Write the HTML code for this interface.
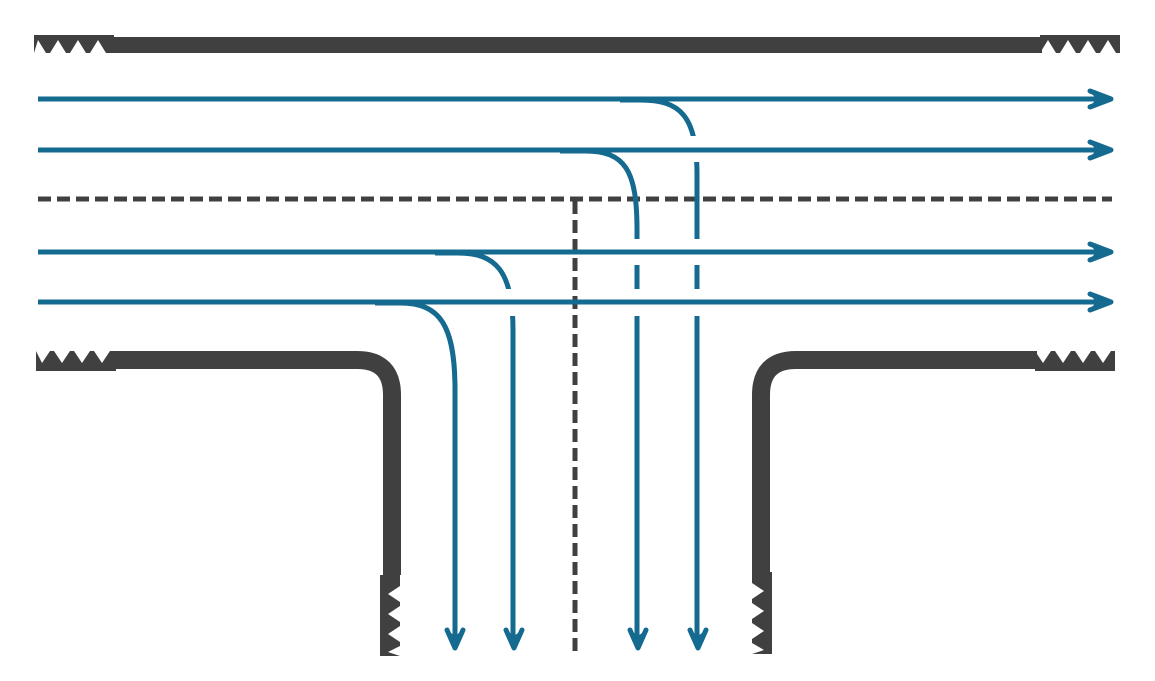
<!DOCTYPE html>
<html><head><style>html,body{margin:0;padding:0;background:#fff}svg{display:block}</style></head>
<body>
<svg width="1155" height="681" viewBox="0 0 1155 681" xmlns="http://www.w3.org/2000/svg">
<g fill="#404040">
<rect x="112" y="37" width="930" height="16"/>
<polygon points="34,35 114,35 114,53 106,53 98,40 90,53 86,53 78,40 70,53 66,53 58,40 50,53 46,53 38,40 34,53"/>
<polygon points="1040,35 1120,35 1120,53 1116,53 1108,40 1100,53 1096,53 1088,40 1080,53 1076,53 1068,40 1060,53 1056,53 1048,40 1040,53"/>
<polygon points="36,371 116,371 116,351 110,351 102,363 94,351 90,351 82,363 74,351 70,351 62,363 54,351 50,351 42,363 36,351"/>
<polygon points="1035,371 1115,371 1115,351 1111,351 1103,363 1095,351 1091,351 1083,363 1075,351 1071,351 1063,363 1055,351 1051,351 1043,363 1035,351"/>
<polygon points="380,575 400,575 400,586 388,594 400,602 400,606 388,614 400,622 400,626 388,634 400,642 400,646 388,652 400,656 380,656"/>
<polygon points="772,572 752,572 752,583 764,591 752,599 752,603 764,611 752,619 752,623 764,631 752,639 752,643 764,650 752,654 772,654"/>
</g>
<g fill="none" stroke="#404040" stroke-width="18">
<path d="M114 360 H357 Q392 360 392 395 V575"/>
<path d="M1037 360 H796 Q761 360 761 395 V574"/>
</g>
<g stroke="#404040" stroke-width="5" stroke-dasharray="13,6" fill="none">
<path d="M38 199 H1112"/>
<path d="M575 201 V657"/>
</g>
<g fill="none" stroke="#156a8f" stroke-width="5">
<path d="M620 100 H640 C680 100 697 115 697 175 V640"/>
<path d="M560 151 H585 C625 151 637 170 637 230 V640"/>
<path d="M435 253 H458 C495 253 513 270 513 330 V640"/>
<path d="M375 303 H400 C440 303 455 325 455 390 V640"/>
</g>
<g fill="#fff">
<rect x="680" y="136" width="35" height="26"/>
<rect x="680" y="239" width="35" height="26"/>
<rect x="680" y="289" width="35" height="27"/>
<rect x="620" y="239" width="35" height="26"/>
<rect x="620" y="289" width="35" height="27"/>
<rect x="496" y="289" width="35" height="27"/>
</g>
<g fill="none" stroke="#156a8f" stroke-width="5">
<path d="M38 99 H1100"/>
<path d="M38 150 H1100"/>
<path d="M38 252 H1100"/>
<path d="M38 302 H1100"/>
</g>
<g fill="none" stroke="#156a8f" stroke-width="5" stroke-linecap="round" stroke-linejoin="round">
<polyline points="1090,91 1111,99 1090,107"/>
<polyline points="1090,142 1111,150 1090,158"/>
<polyline points="1090,244 1111,252 1090,260"/>
<polyline points="1090,294 1111,302 1090,310"/>
<polyline points="447,630 455,648 463,630"/>
<polyline points="506,630 514,648 522,630"/>
<polyline points="630,630 638,648 646,630"/>
<polyline points="690,630 698,648 706,630"/>
</g>
<g fill="#156a8f">
<polygon points="1112,99 1090,91 1096,99 1090,107"/>
<polygon points="1112,150 1090,142 1096,150 1090,158"/>
<polygon points="1112,252 1090,244 1096,252 1090,260"/>
<polygon points="1112,302 1090,294 1096,302 1090,310"/>
<polygon points="455,650 447,630 455,636 463,630"/>
<polygon points="514,650 506,630 514,636 522,630"/>
<polygon points="638,650 630,630 638,636 646,630"/>
<polygon points="698,650 690,630 698,636 706,630"/>
</g>
</svg>
</body></html>
